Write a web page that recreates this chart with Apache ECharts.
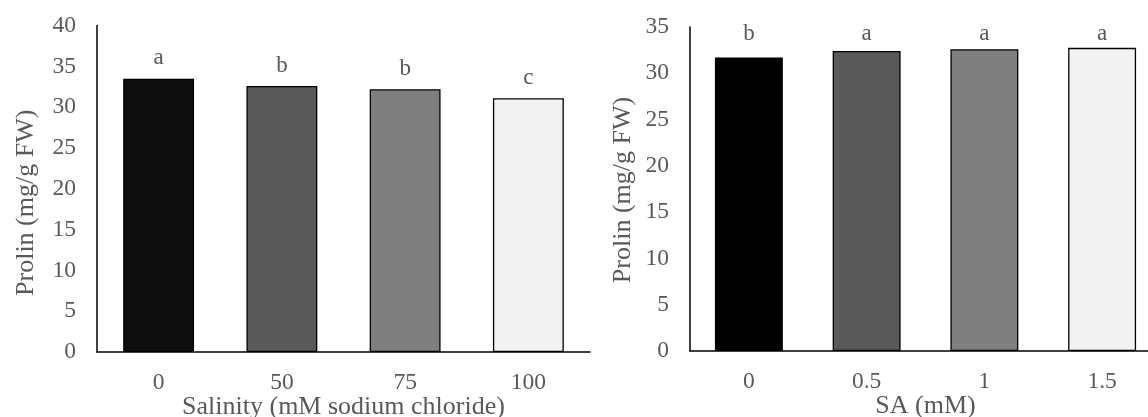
<!DOCTYPE html>
<html>
<head>
<meta charset="utf-8">
<script src="https://cdn.jsdelivr.net/npm/echarts@6/dist/echarts.min.js"></script>
<style>
html,body{margin:0;padding:0;background:#fff;}
#chart{width:1148px;height:417px;}
</style>
</head>
<body>
<div id="chart"></div>
<script>
// ---- Data ----
const salinityCategories = ['0', '50', '75', '100'];
const salinityValues = [33.5, 32.6, 32.2, 31.1];
const salinityLetters = ['a', 'b', 'b', 'c'];

const saCategories = ['0', '0.5', '1', '1.5'];
const saValues = [31.7, 32.4, 32.6, 32.75];
const saLetters = ['b', 'a', 'a', 'a'];

const yTitle = 'Prolin (mg/g FW)';
const salinityTitle = 'Salinity (mM sodium chloride)';
const saTitle = 'SA (mM)';

// ---- Styles ----
const FONT = '"Liberation Serif", "Times New Roman", serif';
const TEXT = '#595959';
const leftColors = ['#0d0d0d', '#595959', '#7f7f7f', '#f2f2f2'];
const rightColors = ['#000000', '#595959', '#7f7f7f', '#f2f2f2'];

const leftGrid = {left: 97, top: 25.6, width: 493, height: 326.4};
const rightGrid = {left: 690, top: 27, width: 471, height: 324};
const rightMax = 35;
const rightPx = rightGrid.height / rightMax;
const rightTop = Math.max(...saValues);

function catAxis(gridIndex, cats, name) {
  return {
    type: 'category', gridIndex, data: cats,
    axisLine: {show: true, lineStyle: {color: '#000', width: 1.5}},
    axisTick: {show: false},
    axisLabel: {color: TEXT, fontFamily: FONT, fontSize: 23.5, margin: 19},
    name, nameLocation: 'middle', nameGap: 42, nameMoveOverlap: false,
    nameTextStyle: {color: TEXT, fontFamily: FONT, fontSize: 26}
  };
}
function valAxis(gridIndex, max, nameGap, padding) {
  return {
    type: 'value', gridIndex, min: 0, max, interval: 5,
    axisLine: {show: true, lineStyle: {color: '#000', width: 1.5}},
    axisTick: {show: false},
    splitLine: {show: false},
    axisLabel: {color: TEXT, fontFamily: FONT, fontSize: 23.5, margin: 21},
    name: yTitle, nameLocation: 'middle', nameGap, nameMoveOverlap: false,
    nameTextStyle: {color: TEXT, fontFamily: FONT, fontSize: 26, padding}
  };
}

const chart = echarts.init(document.getElementById('chart'), null, {renderer: 'canvas'});
chart.setOption({
  animation: false,
  backgroundColor: '#fff',
  grid: [
    Object.assign({containLabel: false, outerBoundsMode: 'none'}, leftGrid),
    Object.assign({containLabel: false, outerBoundsMode: 'none'}, rightGrid)
  ],
  xAxis: [catAxis(0, salinityCategories, salinityTitle), catAxis(1, saCategories, saTitle)],
  yAxis: [valAxis(0, 40, 58, [0, 28, 0, 0]), valAxis(1, rightMax, 54, [0, 2, 0, 0])],
  series: [
    {
      type: 'bar', xAxisIndex: 0, yAxisIndex: 0, barCategoryGap: '42.5%',
      data: salinityValues.map((v, i) => ({
        value: v,
        itemStyle: {color: leftColors[i], borderColor: '#000', borderWidth: 1.3},
        label: {show: true, position: 'top', distance: 9, formatter: salinityLetters[i],
          color: TEXT, fontFamily: FONT, fontSize: 23}
      }))
    },
    {
      type: 'bar', xAxisIndex: 1, yAxisIndex: 1, barCategoryGap: '42.3%',
      data: saValues.map((v, i) => ({
        value: v,
        itemStyle: {color: rightColors[i], borderColor: '#000', borderWidth: i === 0 ? 0 : 1.3},
        label: {show: true, position: 'top', distance: 2 + (rightTop - v) * rightPx,
          formatter: saLetters[i], color: TEXT, fontFamily: FONT, fontSize: 23}
      }))
    }
  ]
});
</script>
</body>
</html>
